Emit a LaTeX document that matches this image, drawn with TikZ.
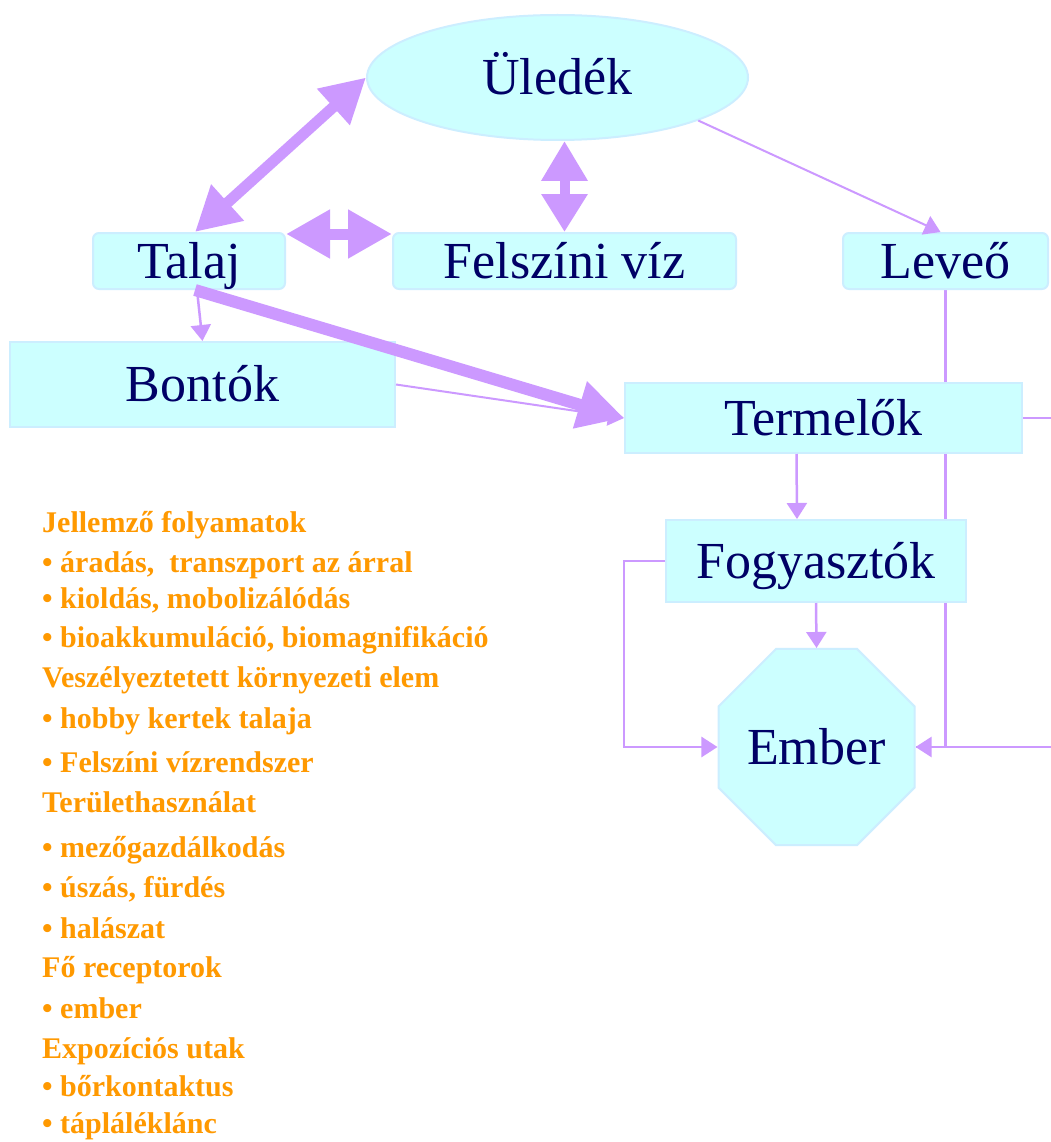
\documentclass[tikz,border=0pt]{standalone}
\usepackage{fontspec}
\setmainfont{Liberation Serif}
\usetikzlibrary{arrows.meta,shapes.geometric,backgrounds}
\definecolor{boxfill}{HTML}{CCFFFF}
\definecolor{boxline}{HTML}{CCEEFF}
\definecolor{navy}{HTML}{000066}
\definecolor{lilac}{HTML}{CC99FF}
\definecolor{amber}{HTML}{FF9900}

\begin{document}
\begin{tikzpicture}
    [x=1pt,y=-1pt,
    box/.style={draw=boxline,line width=2pt,fill=boxfill,text=navy,
        font=\fontsize{52}{60}\selectfont,inner sep=0pt,
        text height=34pt,text depth=0pt},
    flow/.style={draw=lilac,line width=2.5pt,-{Triangle[length=16pt,width=20pt]}},
    bigflow/.style={draw=lilac,line width=12pt,-{Triangle[length=46pt,width=46pt]}},
    exchange/.style={draw=lilac,line width=11pt,
        {Triangle[length=44pt,width=46pt]}-{Triangle[length=44pt,width=46pt]}},
    shortexchange/.style={draw=lilac,line width=10pt,
        {Triangle[length=40pt,width=44pt]}-{Triangle[length=38pt,width=44pt]}},
    listline/.style={anchor=base west,inner sep=0pt,text=amber,
        font=\bfseries\fontsize{30}{36}\selectfont}]
    \useasboundingbox (0,0) rectangle (1050,1142);
    %boxes
    \node[box,ellipse,minimum width=381pt,minimum height=125pt] (uledek) at (557.5,77.5) {Üledék};
    \node[box,rounded corners=6pt,minimum width=192pt,minimum height=56pt] (talaj) at (189,261) {Talaj};
    \node[box,rounded corners=6pt,minimum width=343pt,minimum height=56pt] (felszini) at (564.5,261) {Felszíni víz};
    \node[box,rounded corners=6pt,minimum width=205pt,minimum height=56pt] (leveo) at (945.5,261) {Leveő};
    \node[box,minimum width=385pt,minimum height=85pt] (bontok) at (202.5,384.5) {Bontók};
    \node[box,minimum width=397pt,minimum height=70pt] (termelo) at (823.5,418) {Termelők};
    \node[box,minimum width=300pt,minimum height=82pt] (fogyaszto) at (816,561) {Fogyasztók};
    \node[box,regular polygon,regular polygon sides=8,minimum size=206pt] (ember) at (816.5,747) {Ember};
    %exchange between soil, sediment and water
    \draw[exchange] (uledek.west) -- ([xshift=6pt]talaj.north);
    \draw[exchange] ([yshift=-2pt]talaj.north east) -- ([yshift=-2pt]felszini.north west);
    \draw[shortexchange] (uledek.south -| felszini.north) -- (felszini.north);
    %flows
    \draw[bigflow] ([xshift=6pt]talaj.south) -- (termelo.west);
    \draw[flow] ([xshift=8pt]talaj.south) -- (bontok.north);
    \draw[flow,line width=2pt] (bontok.east) -- (termelo.west);
    \draw[flow,line width=2pt] (uledek.-17) -- ([xshift=-5pt]leveo.north);
    \draw[flow] ([xshift=-27pt]termelo.south) -- ([xshift=-19pt]fogyaszto.north);
    \draw[flow] (fogyaszto.south) -- (ember.north);
    \draw[flow] (fogyaszto.west) -- ++(-41,0) |- (ember.west);
    \draw[lilac,line width=2.5pt] (termelo.east) -- ++(40,0) |- (ember.east);
    \begin{scope}[on background layer]
        \fill[white] (0,0) rectangle (1050,1142);
        \draw[flow] (leveo.south) |- (ember.east);
    \end{scope}
    %list
    \node[listline] (l1) at (42,532) {Jellemző folyamatok};
    \node[listline] (l2) at (42,572) {• áradás,\ \ transzport az árral};
    \node[listline] (l3) at (42,608) {• kioldás, mobolizálódás};
    \node[listline] (l4) at (42,647) {• bioakkumuláció, biomagnifikáció};
    \node[listline] (l5) at (42,687) {Veszélyeztetett környezeti elem};
    \node[listline] (l6) at (42,728) {• hobby kertek talaja};
    \node[listline] (l7) at (42,772) {• Felszíni vízrendszer};
    \node[listline] (l8) at (42,812) {Területhasználat};
    \node[listline] (l9) at (42,857) {• mezőgazdálkodás};
    \node[listline] (l10) at (42,897) {• úszás, fürdés};
    \node[listline] (l11) at (42,938) {• halászat};
    \node[listline] (l12) at (42,977) {Fő receptorok};
    \node[listline] (l13) at (42,1018) {• ember};
    \node[listline] (l14) at (42,1058) {Expozíciós utak};
    \node[listline] (l15) at (42,1096) {• bőrkontaktus};
    \node[listline] (l16) at (42,1133) {• tápláléklánc};
\end{tikzpicture}
\end{document}
